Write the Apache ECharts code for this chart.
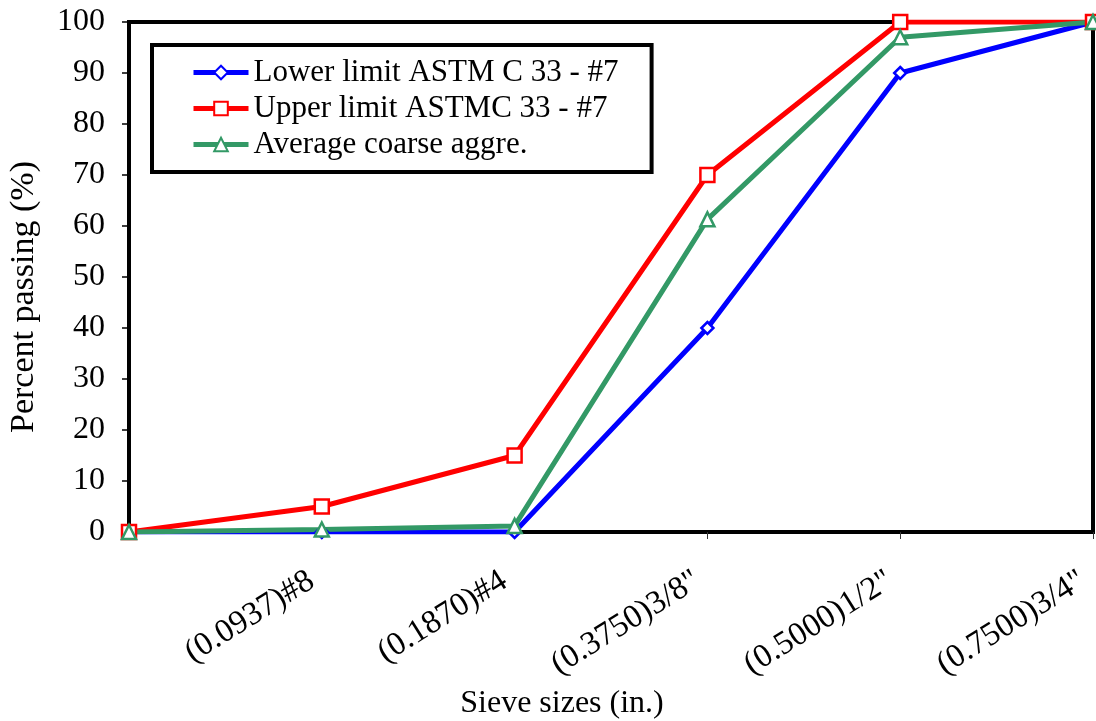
<!DOCTYPE html>
<html>
<head>
<meta charset="utf-8">
<script src="https://cdn.jsdelivr.net/npm/echarts@6/dist/echarts.min.js"></script>
<style>
  html, body { margin: 0; padding: 0; background: #fff; overflow: hidden; }
  #chart { width: 1096px; height: 721px; }
</style>
</head>
<body>
<div id="chart"></div>
<script>
// Sieve sizes on the x axis (first position is the unlabeled origin)
const sieveSizes = ['', '(0.0937)#8', '(0.1870)#4', '(0.3750)3/8"', '(0.5000)1/2"', '(0.7500)3/4"'];

// Percent passing for each curve
const lowerLimit = [0, 0, 0, 40, 90, 100];
const upperLimit = [0, 5, 15, 70, 100, 100];
const averageCoarse = [0, 0.5, 1.2, 61.3, 97, 100];

const seriesNames = ['Lower limit ASTM C 33 - #7', 'Upper limit ASTMC 33 - #7', 'Average coarse aggre.'];

const FONT = '"Liberation Serif", "Times New Roman", serif';

function lineSeries(name, data, color, symbol, size) {
  return {
    name: name,
    type: 'line',
    data: data,
    symbol: symbol,
    symbolSize: size,
    showAllSymbol: true,
    lineStyle: { color: color, width: 5 },
    itemStyle: { color: '#ffffff', borderColor: color, borderWidth: 2.5 },
    emphasis: { disabled: true },
    z: 3
  };
}

const chart = echarts.init(document.getElementById('chart'), null, { renderer: 'canvas' });

chart.setOption({
  animation: false,
  backgroundColor: '#ffffff',
  textStyle: { fontFamily: FONT },
  grid: {
    left: 129, right: 3, top: 22, bottom: 189,
    outerBoundsMode: 'none',
    containLabel: false,
    show: true, borderColor: '#000', borderWidth: 4, backgroundColor: 'transparent'
  },
  legend: {
    orient: 'vertical',
    left: 152, top: 45,
    padding: [12, 33, 12, 39],
    borderColor: '#000', borderWidth: 4,
    itemWidth: 55, itemHeight: 17, itemGap: 5,
    lineStyle: { width: 5 },
    textStyle: { fontFamily: FONT, fontSize: 31, color: '#000', lineHeight: 31 },
    data: seriesNames
  },
  xAxis: {
    type: 'category',
    data: sieveSizes,
    boundaryGap: false,
    name: 'Sieve sizes (in.)',
    nameLocation: 'middle',
    nameGap: 153,
    nameTextStyle: { fontFamily: FONT, fontSize: 32, color: '#000', padding: [0, 98, 0, 0] },
    axisLine: { show: true, lineStyle: { color: '#000', width: 4 } },
    axisTick: { show: true, alignWithLabel: true, length: 7, lineStyle: { color: '#333', width: 1 } },
    axisLabel: {
      rotate: 32, margin: 40, padding: [0, 12, 0, 0],
      fontFamily: FONT, fontSize: 33, color: '#000', interval: 0
    },
    splitLine: { show: false }
  },
  yAxis: {
    type: 'value',
    min: 0, max: 100, interval: 10,
    name: 'Percent passing (%)',
    nameLocation: 'middle',
    nameGap: 88,
    nameTextStyle: { fontFamily: FONT, fontSize: 34, color: '#000', padding: [0, 40, 0, 0] },
    axisLine: { show: true, lineStyle: { color: '#000', width: 4 } },
    axisTick: { show: true, length: 7, lineStyle: { color: '#000', width: 1.5 } },
    axisLabel: { margin: 24, fontFamily: FONT, fontSize: 32, color: '#000' },
    splitLine: { show: false }
  },
  series: [
    lineSeries(seriesNames[0], lowerLimit, '#0000ff', 'diamond', 12),
    lineSeries(seriesNames[1], upperLimit, '#ff0000', 'rect', 14),
    lineSeries(seriesNames[2], averageCoarse, '#339966', 'triangle', 14)
  ]
});
</script>
</body>
</html>
